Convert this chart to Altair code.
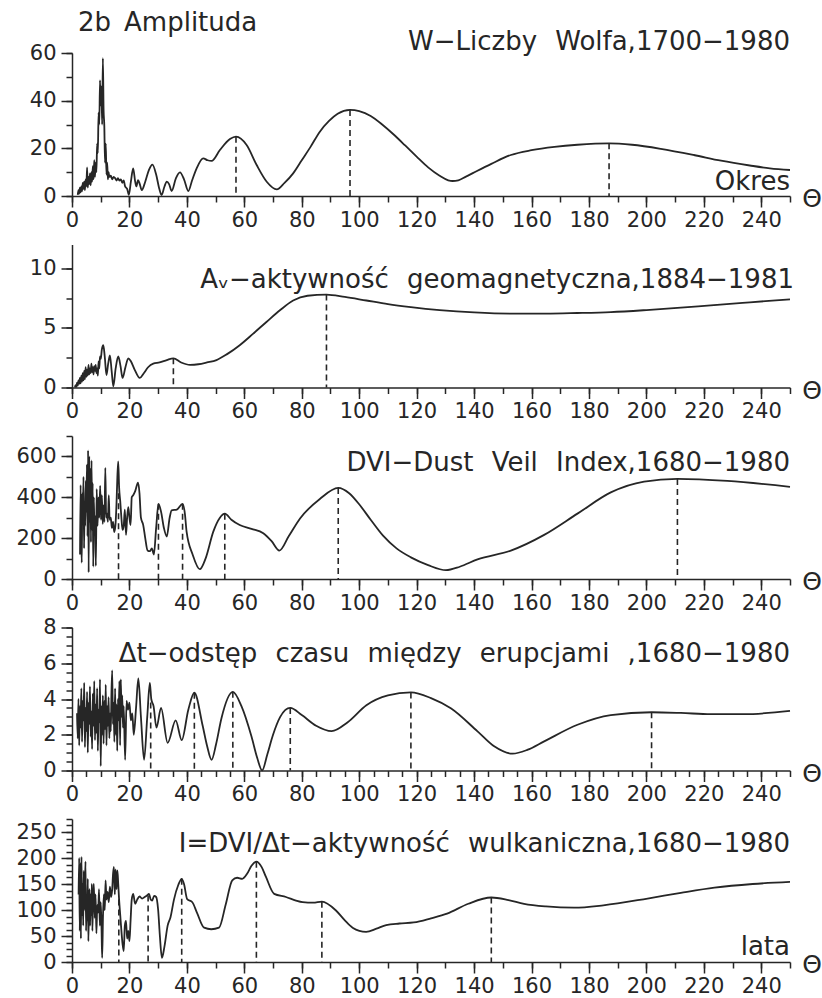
import altair as alt
import pandas as pd

FONT = "DejaVu Sans"
INK = "#262626"
SP = "\u2002\u2009"  # wide word gap used in the panel captions

# ---------------- period (years) vs amplitude, one list per series ----------------
wolf_curve = [
    (2.00, 0.5), (2.25, 2.5), (2.50, 1.0), (2.75, 3.5), (3.00, 1.5), (3.25, 4.0), (3.50, 2.0),
    (3.75, 5.5), (4.00, 3.0), (4.25, 6.0), (4.50, 2.5), (4.75, 7.0), (5.00, 4.0), (5.25, 12.0),
    (5.50, 3.5), (5.75, 8.0), (6.00, 5.0), (6.25, 9.5), (6.50, 4.5), (6.75, 10.0), (7.00, 6.0),
    (7.25, 12.5), (7.50, 7.0), (7.75, 15.0), (8.00, 8.0), (8.25, 14.0), (8.50, 10.0), (8.75, 22.0),
    (9.00, 18.0), (9.25, 35.0), (9.50, 30.0), (9.75, 48.5), (10.00, 38.0), (10.25, 46.0),
    (10.50, 30.0), (10.75, 57.8), (11.00, 36.0), (11.25, 29.5), (11.50, 14.0), (11.75, 22.0),
    (12.00, 9.0), (12.25, 14.0), (12.50, 7.0), (12.75, 10.0), (13.00, 8.0), (13.5, 8.5),
    (14.0, 7.0), (14.5, 8.0), (15.0, 7.5), (15.5, 6.5), (16.0, 7.5), (16.5, 6.5), (17.0, 7.0),
    (17.5, 5.5), (18.0, 6.5), (18.5, 4.0), (19.2, 3.0), (19.8, 0.5), (20.5, 6.0), (21.3, 11.6),
    (22.0, 6.0), (22.4, 4.0), (23.0, 6.7), (23.6, 5.0), (24.3, 2.5), (25.5, 6.0), (26.8, 11.0),
    (28.0, 13.2), (29.3, 9.0), (30.4, 3.0), (31.2, 0.4), (32.2, 4.0), (33.0, 6.0), (33.8, 5.0),
    (34.7, 2.1), (36.2, 7.5), (37.6, 9.9), (39.0, 7.0), (40.5, 2.1), (41.8, 6.5), (43.4, 11.6),
    (45.7, 15.8), (47.2, 15.0), (48.6, 14.7), (51.5, 19.3), (55.0, 23.9), (57.1, 24.9),
    (60.8, 21.4), (64.3, 13.0), (67.8, 6.0), (71.3, 2.8), (74.0, 5.5), (77.0, 9.5), (80.0, 15.0),
    (83.0, 20.5), (86.3, 27.0), (89.5, 31.5), (92.5, 34.5), (96.8, 36.1), (100.0, 35.6),
    (104.0, 33.6), (108.0, 30.0), (112.0, 25.8), (116.0, 21.2), (120.0, 16.5), (124.0, 12.0),
    (128.0, 8.5), (131.0, 6.6), (132.5, 6.3), (134.5, 6.6),
    (137.0, 8.0), (141.0, 10.5), (146.0, 13.5), (152.8, 17.2), (160.0, 19.2), (168.0, 20.6),
    (176.0, 21.5), (187.0, 22.1), (195.0, 21.5), (205.0, 19.8), (216.5, 17.2), (226.0, 14.8),
    (236.0, 12.8), (243.0, 11.6), (250.0, 10.9),
]
wolf_peaks = [(57.1, 24.9), (96.8, 36.1), (187.0, 22.1)]

av_curve = [
    (1.00, 0.0), (1.25, 0.2), (1.50, 0.05), (1.75, 0.4), (2.00, 0.15), (2.25, 0.6), (2.50, 0.3),
    (2.75, 0.8), (3.00, 0.35), (3.25, 1.0), (3.50, 0.5), (3.75, 1.2), (4.00, 0.6), (4.25, 1.4),
    (4.50, 0.7), (4.75, 1.7), (5.00, 0.9), (5.25, 1.5), (5.50, 1.0), (5.75, 1.9), (6.00, 1.1),
    (6.25, 1.6), (6.50, 1.2), (6.75, 2.0), (7.00, 1.3), (7.25, 1.7), (7.50, 1.1), (7.75, 1.8),
    (8.00, 1.4), (8.25, 1.9), (8.50, 1.2), (8.75, 1.6), (9.00, 1.0), (9.25, 2.2), (9.50, 1.6),
    (9.75, 2.6), (10.00, 2.4), (10.4, 3.2), (10.9, 3.55), (11.4, 2.6), (12.0, 1.05), (12.6, 2.0),
    (13.2, 2.7), (13.8, 1.4), (14.4, 0.1), (15.2, 1.6), (16.1, 2.6), (16.9, 1.8), (17.6, 0.8),
    (18.6, 1.7), (19.6, 2.45), (20.5, 2.2), (21.8, 1.5), (23.6, 0.8), (25.0, 1.2), (26.5, 1.7),
    (28.3, 2.0), (30.5, 2.1), (33.0, 2.3), (35.3, 2.45), (38.0, 2.1), (41.1, 1.9), (44.0, 1.95),
    (47.0, 2.1), (50.3, 2.3), (54.0, 2.8), (58.4, 3.55), (63.0, 4.5), (67.7, 5.5), (72.5, 6.5),
    (77.0, 7.3), (82.0, 7.7), (88.6, 7.8), (95.0, 7.6), (102.5, 7.3), (110.0, 7.0), (118.0, 6.75),
    (128.0, 6.5), (140.0, 6.3), (152.8, 6.2), (165.0, 6.2), (176.0, 6.25), (187.6, 6.33),
    (200.0, 6.5), (212.0, 6.7), (222.4, 6.9), (236.0, 7.15), (250.0, 7.4),
]
av_peaks = [(35.3, 2.45), (88.6, 7.8)]

dvi_curve = [
    (2.8, 120), (3.0, 460), (3.2, 200), (3.4, 80), (3.6, 420), (3.8, 300), (4.0, 500), (4.2, 150),
    (4.4, 380), (4.6, 260), (4.8, 480), (5.0, 330), (5.2, 560), (5.4, 210), (5.6, 630), (5.8, 32),
    (6.0, 600), (6.2, 280), (6.4, 540), (6.6, 180), (6.8, 580), (7.0, 240), (7.2, 470), (7.4, 60),
    (7.6, 400), (7.8, 240), (8.0, 310), (8.3, 64), (8.6, 440), (8.9, 260), (9.2, 400), (9.5, 300),
    (9.8, 456), (10.1, 290), (10.4, 410), (10.7, 270), (11.0, 360), (11.3, 280), (11.6, 544),
    (11.9, 300), (12.2, 320), (12.5, 280), (12.8, 410), (13.1, 290), (13.5, 300), (13.9, 250),
    (14.3, 280), (14.7, 230), (15.1, 260), (15.5, 370), (15.8, 500), (16.1, 576), (16.4, 450),
    (16.8, 380), (17.2, 300), (17.6, 240), (18.0, 260), (18.4, 340), (18.8, 216), (19.2, 300),
    (19.6, 352), (20.0, 300), (20.4, 264), (20.8, 400), (21.3, 410), (22.0, 430), (23.0, 472),
    (23.5, 420), (24.0, 300), (24.8, 264), (25.5, 200), (26.3, 140), (27.1, 136), (27.8, 150),
    (28.5, 120), (29.3, 250), (30.1, 368), (31.0, 330), (32.0, 250), (33.0, 208), (34.0, 300),
    (34.7, 336), (36.5, 340), (38.5, 368), (39.3, 320), (39.9, 232), (42.0, 120), (44.5, 48),
    (46.5, 100), (49.2, 232), (51.5, 300), (53.2, 320), (55.5, 290), (58.4, 264), (62.5, 245),
    (66.6, 224), (69.5, 185), (72.2, 139), (75.5, 210), (79.4, 296), (86.3, 392), (92.7, 446),
    (96.5, 420), (100.2, 362), (104.0, 290), (108.3, 212), (113.0, 150), (118.0, 106),
    (124.0, 68), (130.2, 43), (135.0, 60), (141.2, 96), (152.8, 139), (164.4, 216), (176.0, 320),
    (187.6, 424), (199.2, 477), (210.8, 490), (228.2, 480), (250.0, 451),
]
dvi_peaks = [(16.2, 420), (30.1, 368), (38.5, 368), (53.2, 320), (92.7, 446), (210.8, 490)]

dt_curve = [
    (1.75, 3.2), (2.00, 1.8), (2.25, 4.0), (2.50, 1.4), (2.75, 3.6), (3.00, 2.4), (3.25, 4.6),
    (3.50, 1.6), (3.75, 3.9), (4.00, 2.8), (4.25, 4.9), (4.50, 1.3), (4.75, 3.5), (5.00, 2.2),
    (5.25, 4.4), (5.50, 1.0), (5.75, 3.8), (6.00, 2.6), (6.25, 4.7), (6.50, 1.9), (6.75, 3.3),
    (7.00, 1.2), (7.25, 4.3), (7.50, 2.5), (7.75, 5.0), (8.00, 1.7), (8.25, 3.7), (8.50, 2.1),
    (8.75, 4.6), (9.00, 1.1), (9.25, 3.4), (9.50, 2.7), (9.75, 5.1), (10.00, 0.25), (10.25, 3.6),
    (10.50, 2.0), (10.75, 4.2), (11.00, 1.5), (11.25, 3.9), (11.50, 2.3), (11.75, 4.8),
    (12.00, 1.4), (12.25, 3.6), (12.50, 2.5), (12.75, 4.1), (13.00, 1.8), (13.25, 3.2),
    (13.50, 2.2), (13.75, 4.4), (14.00, 5.6), (14.25, 2.6), (14.50, 3.8), (14.75, 1.6),
    (15.00, 4.6), (15.25, 2.0), (15.50, 3.7), (15.75, 1.1), (16.00, 4.0), (16.25, 2.8),
    (16.50, 5.0), (16.75, 1.4), (17.00, 5.1), (17.25, 3.0), (17.50, 4.2), (17.75, 2.4),
    (18.00, 3.6), (18.5, 0.6), (19.0, 3.9), (19.5, 3.4), (20.0, 3.8), (20.5, 2.8), (21.0, 3.2),
    (21.5, 2.0), (22.3, 3.5), (23.1, 5.15), (24.0, 3.0), (25.1, 0.6), (26.2, 3.0), (27.1, 4.9),
    (27.6, 4.0), (28.4, 3.6), (29.4, 2.4), (31.0, 3.5), (33.3, 1.55), (36.1, 2.8), (38.2, 1.7),
    (40.5, 3.4), (42.6, 4.35), (45.5, 2.5), (47.0, 1.4), (48.6, 0.6), (50.2, 1.5), (52.0, 2.9),
    (56.0, 4.4), (59.0, 3.6), (62.5, 1.9), (64.5, 0.7), (66.2, 0.0), (68.0, 0.9), (70.0, 2.0),
    (72.5, 3.0), (76.0, 3.5), (80.0, 3.1), (85.0, 2.5), (90.4, 2.2), (96.0, 2.7), (102.5, 3.65),
    (110.0, 4.2), (118.0, 4.37), (125.0, 4.05), (131.9, 3.48), (141.2, 2.19), (147.0, 1.35),
    (153.4, 0.94), (158.5, 1.15), (164.4, 1.63), (176.0, 2.56), (187.6, 3.1), (201.8, 3.26),
    (212.0, 3.22), (222.4, 3.15), (234.0, 3.15), (250.0, 3.33),
]
dt_peaks = [(27.4, 3.8), (42.6, 4.35), (56.0, 4.4), (76.0, 3.5), (118.0, 4.37), (201.8, 3.26)]

vol_curve = [
    (2.3, 130), (2.5, 200), (2.7, 60), (2.9, 190), (3.1, 45), (3.3, 202), (3.5, 90), (3.7, 150),
    (3.9, 70), (4.1, 175), (4.3, 100), (4.5, 140), (4.7, 193), (4.9, 60), (5.1, 120), (5.3, 80),
    (5.5, 160), (5.7, 40), (5.9, 110), (6.1, 140), (6.3, 70), (6.5, 130), (6.7, 90), (6.9, 150),
    (7.1, 60), (7.3, 120), (7.6, 150), (7.9, 85), (8.2, 130), (8.5, 55), (8.8, 110), (9.1, 95),
    (9.4, 140), (9.7, 70), (10.0, 115), (10.3, 60), (10.5, 8), (10.8, 90), (11.1, 130),
    (11.4, 100), (11.7, 157), (12.0, 120), (12.4, 135), (12.8, 115), (13.2, 145), (13.6, 125),
    (14.0, 140), (14.3, 170), (14.6, 183), (14.9, 130), (15.2, 178), (15.5, 140), (15.8, 176),
    (16.1, 150), (16.4, 120), (16.8, 90), (17.2, 60), (17.6, 35), (18.0, 21), (18.4, 70),
    (18.8, 79), (19.2, 45), (19.6, 60), (20.0, 40), (20.4, 80), (20.8, 120), (21.3, 131),
    (22.0, 112), (22.7, 120), (23.5, 126), (24.4, 122), (25.3, 125), (26.1, 128), (26.8, 131),
    (27.4, 120), (27.9, 118), (28.6, 127), (29.3, 125), (30.0, 100), (30.6, 50), (31.3, 8),
    (32.2, 30), (33.3, 70), (34.3, 86), (35.5, 120), (37.0, 148), (38.2, 160), (39.0, 150),
    (40.1, 121), (41.9, 115), (43.5, 95), (46.0, 66), (48.5, 63), (51.2, 66), (53.5, 110),
    (55.8, 157), (57.5, 162), (59.3, 160), (61.0, 170), (62.5, 185), (64.2, 193), (66.0, 183),
    (67.5, 164), (70.4, 131), (74.5, 125), (78.0, 118), (80.3, 115), (84.0, 114), (87.0, 116),
    (91.9, 99), (95.0, 80), (97.7, 66), (102.4, 58), (106.0, 64), (109.4, 71), (114.0, 74),
    (119.0, 76), (125.0, 84), (130.6, 93), (138.0, 112), (146.0, 124), (152.0, 119),
    (157.4, 112), (165.0, 107), (174.8, 104.5), (185.0, 109), (200.4, 122), (212.0, 133),
    (223.7, 143), (237.0, 150), (250.0, 154),
]
vol_peaks = [(16.3, 120), (26.5, 128), (38.2, 160), (64.2, 193), (87.0, 116), (146.0, 124)]

# ---------------- captions ----------------
caption_wolf = f"W−Liczby{SP}Wolfa,1700−1980"
caption_av = f"Aᵥ−aktywność{SP}geomagnetyczna,1884−1981"
caption_dvi = f"DVI−Dust{SP}Veil{SP}Index,1680−1980"
caption_dt = f"Δt−odstęp{SP}czasu{SP}między{SP}erupcjami{SP},1680−1980"
caption_vol = f"I=DVI/Δt−aktywność{SP}wulkaniczna,1680−1980"
heading = "2b\u2002Amplituda"
x_name_top = "Okres"
x_name_bottom = "lata"
theta = "Θ"

# ---------------- axis scales ----------------
x_major_ticks = list(range(0, 250, 20))
y_limits = [60, 12, 700, 8, 275]
y_major_ticks = [[0, 20, 40, 60], [0, 5, 10], [0, 200, 400, 600], [0, 2, 4, 6, 8],
                 [0, 50, 100, 150, 200, 250]]
y_minor_step = [10, 2.5, 100, 0.5, 12.5]
x_minor_step = [10, 10, 10, 5, 10]

W, H = 718, 143


def frange(stop, step):
    out, v = [], 0.0
    while v <= stop + 1e-9:
        out.append(round(v, 4))
        v += step
    return out


def major_x():
    return alt.Axis(values=x_major_ticks, orient="bottom", title=None, grid=False,
                    tickSize=11, tickWidth=1.5, tickColor=INK, domainColor=INK,
                    domainWidth=1.5, labelFont=FONT, labelFontSize=21, labelColor=INK,
                    labelPadding=2, labelFlush=False, labelOverlap=False)


def minor_x(step):
    return alt.Axis(values=frange(250, step), orient="bottom", title=None, grid=False,
                    tickSize=6, tickWidth=1.5, tickColor=INK, domain=False, labels=False)


def major_y(vals):
    return alt.Axis(values=vals, orient="left", title=None, grid=False, tickSize=11,
                    tickWidth=1.5, tickColor=INK, domainColor=INK, domainWidth=1.5,
                    labelFont=FONT, labelFontSize=21, labelColor=INK, labelPadding=5,
                    labelOverlap=False, labelFlush=False)


def minor_y(top, step):
    return alt.Axis(values=frange(top, step), orient="left", title=None, grid=False,
                    tickSize=6, tickWidth=1.5, tickColor=INK, domain=False, labels=False)


def note(text, x, y, align="right", size=26, baseline="alphabetic"):
    return alt.Chart(pd.DataFrame({"t": [text]})).mark_text(
        font=FONT, fontSize=size, color=INK, align=align, baseline=baseline
    ).encode(x=alt.value(x), y=alt.value(y), text="t:N")


def panel(i, curve, peaks, notes):
    xs = alt.Scale(domain=[0, 250], nice=False, zero=False)
    ys = alt.Scale(domain=[0, y_limits[i]], nice=False)
    cdf = pd.DataFrame(curve, columns=["okres", "amp"])
    pdf = pd.DataFrame(peaks, columns=["okres", "amp"])
    pdf["base"] = 0
    line = alt.Chart(cdf).mark_line(color=INK, strokeWidth=1.8, interpolate="monotone").encode(
        x=alt.X("okres:Q", scale=xs, axis=major_x()),
        y=alt.Y("amp:Q", scale=ys, axis=major_y(y_major_ticks[i])),
    )
    dashes = alt.Chart(pdf).mark_rule(color=INK, strokeWidth=1.6, strokeDash=[6, 4]).encode(
        x=alt.X("okres:Q", scale=xs, axis=minor_x(x_minor_step[i])),
        y=alt.Y("amp:Q", scale=ys, axis=minor_y(y_limits[i], y_minor_step[i])),
        y2="base:Q",
    )
    layers = [line, dashes] + notes + [note(theta, W + 22, H + 3, align="center", size=25,
                                             baseline="middle")]
    return alt.layer(*layers).resolve_axis(x="independent", y="independent").properties(
        width=W, height=H)


p1 = panel(0, wolf_curve, wolf_peaks, [
    note(heading, 6, -22, align="left"),
    note(caption_wolf, W, -3),
    note(x_name_top, W, H - 6),
])
p2 = panel(1, av_curve, av_peaks, [note(caption_av, W + 4, 43)])
p3 = panel(2, dvi_curve, dvi_peaks, [note(caption_dvi, W, 35)])
p4 = panel(3, dt_curve, dt_peaks, [note(caption_dt, W, 34)])
p5 = panel(4, vol_curve, vol_peaks, [note(caption_vol, W, 33), note(x_name_bottom, W, H - 7)])

chart = alt.vconcat(p1, p2, p3, p4, p5, spacing=48.5, bounds="flush").properties(
    padding={"left": 15, "top": 10, "right": 0, "bottom": 0}
).configure_view(stroke=None)

chart.save("out.html", embed_options={"renderer": "svg", "actions": False})
